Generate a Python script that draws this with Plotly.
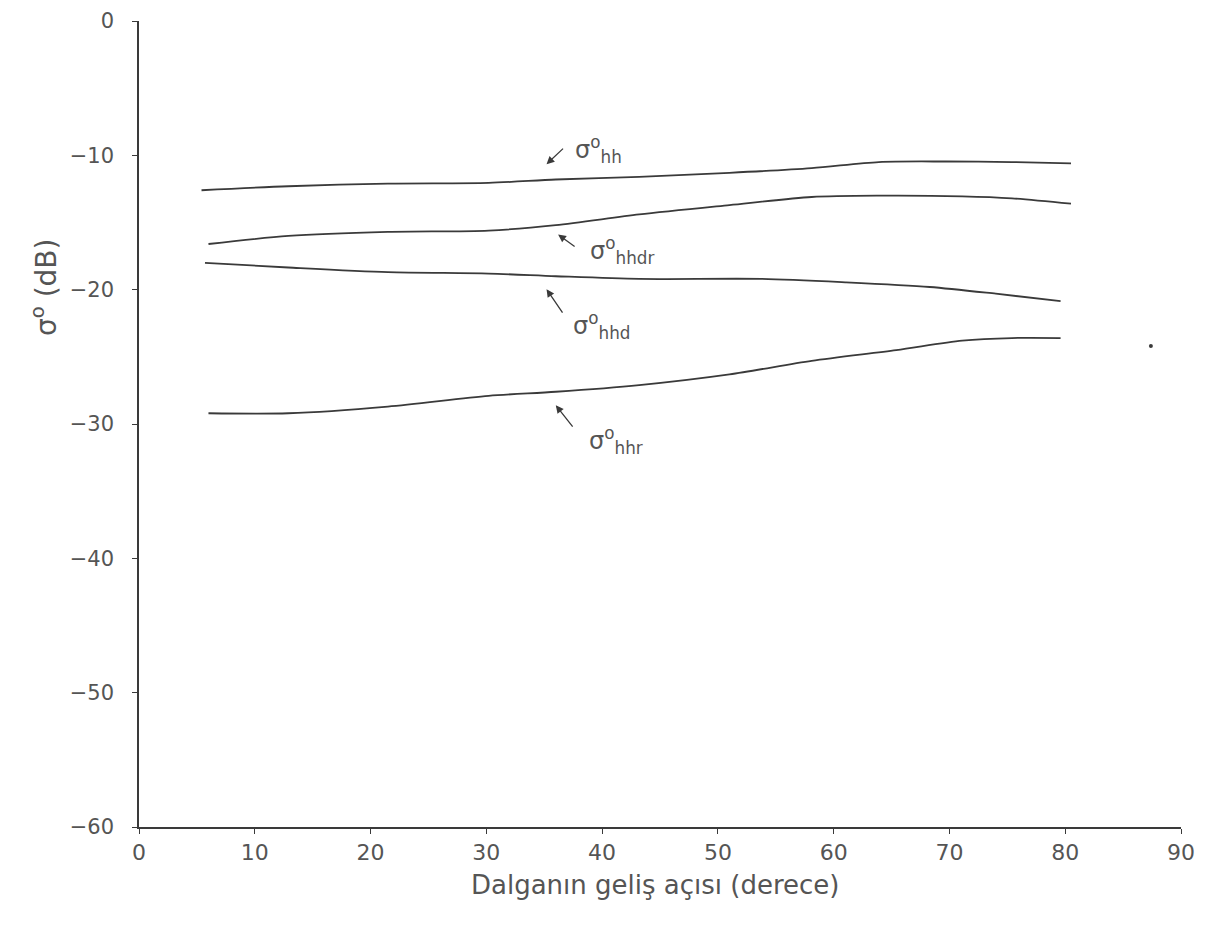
import plotly.graph_objects as go

# Incidence angle (deg) and backscatter (dB)
x_hh = [5.4, 12.9, 21.5, 30.2, 36.0, 43.2, 51.0, 58.1, 63.9, 69.7, 75.4, 80.5]
y_hh = [-12.6, -12.3, -12.1, -12.05, -11.8, -11.6, -11.3, -10.95, -10.5, -10.46, -10.5, -10.6]

x_hhdr = [6.0, 12.9, 21.5, 30.2, 36.0, 43.2, 51.0, 58.1, 63.9, 71.1, 75.4, 80.5]
y_hhdr = [-16.6, -16.0, -15.7, -15.6, -15.2, -14.4, -13.7, -13.1, -13.0, -13.05, -13.2, -13.6]

x_hhd = [5.7, 12.9, 21.5, 30.2, 36.0, 43.2, 53.8, 61.0, 68.3, 74.0, 79.6]
y_hhd = [-18.0, -18.35, -18.7, -18.8, -19.0, -19.2, -19.2, -19.45, -19.8, -20.3, -20.85]

x_hhr = [6.0, 12.9, 21.5, 30.2, 36.0, 43.2, 51.0, 58.1, 65.4, 71.1, 75.4, 79.6]
y_hhr = [-29.2, -29.2, -28.7, -27.9, -27.6, -27.1, -26.3, -25.3, -24.5, -23.8, -23.6, -23.6]

x_dot = [87.4]
y_dot = [-24.2]

x_ticks = [0, 10, 20, 30, 40, 50, 60, 70, 80, 90]
y_ticks = [0, -10, -20, -30, -40, -50, -60]

labels = ["σ<sup>o</sup><sub>hh</sub>", "σ<sup>o</sup><sub>hhdr</sub>",
          "σ<sup>o</sup><sub>hhd</sub>", "σ<sup>o</sup><sub>hhr</sub>"]
arrow_x = [35.2, 36.2, 35.2, 36.0]
arrow_y = [-10.66, -15.9, -19.96, -28.6]
arrow_ax = [18, 18, 17, 18]
arrow_ay = [-17, 13, 25, 23]
label_x = [37.5, 38.8, 37.3, 38.7]
label_y = [-9.6, -17.1, -22.7, -31.2]

x_title = "Dalganın geliş açısı (derece)"
y_title = "σ<sup>o</sup> (dB)"

LINE = "#3a3a3a"
TXT = "#555555"
FONT = "DejaVu Sans"

fig = go.Figure()
for xs, ys in [(x_hh, y_hh), (x_hhdr, y_hhdr), (x_hhd, y_hhd), (x_hhr, y_hhr)]:
    fig.add_trace(go.Scatter(x=xs, y=ys, mode="lines",
                             line=dict(color=LINE, width=1.8, shape="spline", smoothing=0.8),
                             showlegend=False, hoverinfo="skip"))
fig.add_trace(go.Scatter(x=x_dot, y=y_dot, mode="markers",
                         marker=dict(color=LINE, size=4), showlegend=False))

for i in range(4):
    fig.add_annotation(x=arrow_x[i], y=arrow_y[i], xref="x", yref="y",
                       ax=arrow_ax[i], ay=arrow_ay[i], text="", showarrow=True,
                       arrowhead=2, arrowsize=1.2, arrowwidth=1.3, arrowcolor=LINE)
    fig.add_annotation(x=label_x[i], y=label_y[i], xref="x", yref="y",
                       text=labels[i], showarrow=False, xanchor="left",
                       font=dict(family=FONT, size=24, color=TXT))

W, H = 1212, 942
ML, MR, MT, MB = 131, 39, 13, 123
pw, ph = W - ML - MR, H - MT - MB

# axis titles as annotations placed like the reference (page offset of 8 px)
fig.add_annotation(x=(647 - ML) / pw, y=1 - (877 - MT) / ph, xref="paper", yref="paper",
                   xanchor="center", yanchor="middle",
                   text=x_title, showarrow=False,
                   font=dict(family=FONT, size=26, color=TXT))
fig.add_annotation(x=(37 - ML) / pw, y=1 - (280 - MT) / ph, xref="paper", yref="paper",
                   xanchor="center", yanchor="middle",
                   text=y_title, showarrow=False, textangle=-90,
                   font=dict(family=FONT, size=28, color=TXT))

fig.update_layout(
    width=W, height=H,
    paper_bgcolor="white", plot_bgcolor="white",
    margin=dict(l=ML, r=MR, t=MT, b=MB, autoexpand=False),
    font=dict(family=FONT, color=TXT),
)
fig.update_xaxes(range=[0, 90], tickvals=x_ticks, showgrid=False, zeroline=False,
                 showline=True, linecolor=LINE, linewidth=1.5,
                 ticks="outside", ticklen=5, tickcolor=LINE,
                 tickfont=dict(family=FONT, size=22, color=TXT))
fig.update_yaxes(range=[-60, 0], tickvals=y_ticks, showgrid=False, zeroline=False,
                 showline=True, linecolor=LINE, linewidth=1.5,
                 ticks="outside", ticklen=5, tickcolor=LINE, ticklabelstandoff=14,
                 tickfont=dict(family=FONT, size=21, color=TXT))

fig.write_html("out.html")
